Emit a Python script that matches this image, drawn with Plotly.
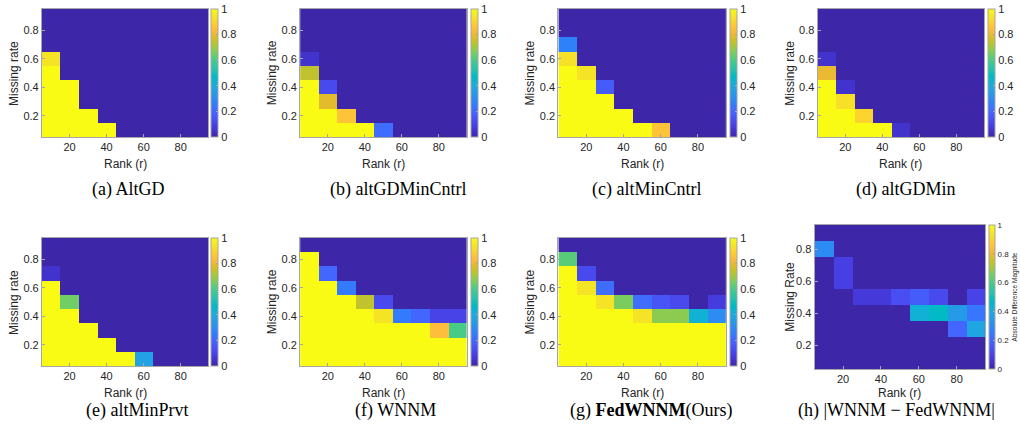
import plotly.graph_objects as go

W, H = 1020, 437

ranks = [10, 20, 30, 40, 50, 60, 70, 80, 90]
missing_rates = [0.1, 0.2, 0.3, 0.4, 0.5, 0.6, 0.7, 0.8, 0.9]
x_ticks = [20, 40, 60, 80]
y_ticks = [0.2, 0.4, 0.6, 0.8]
cb_ticks = [0, 0.2, 0.4, 0.6, 0.8, 1]
cb_ticktext = ["0", "0.2", "0.4", "0.6", "0.8", "1"]

# rows: missing rate 0.1 (bottom) ... 0.9 (top); columns: rank 10 ... 90
altgd = [
    [1, 1, 1, 1, 0, 0, 0, 0, 0],
    [1, 1, 1, 0, 0, 0, 0, 0, 0],
    [1, 1, 0, 0, 0, 0, 0, 0, 0],
    [1, 1, 0, 0, 0, 0, 0, 0, 0],
    [1, 0, 0, 0, 0, 0, 0, 0, 0],
    [0.94, 0, 0, 0, 0, 0, 0, 0, 0],
    [0, 0, 0, 0, 0, 0, 0, 0, 0],
    [0, 0, 0, 0, 0, 0, 0, 0, 0],
    [0, 0, 0, 0, 0, 0, 0, 0, 0],
]
altgdmin_cntrl = [
    [1, 1, 1, 1, 0.22, 0, 0, 0, 0],
    [1, 1, 0.86, 0, 0, 0, 0, 0, 0],
    [1, 0.79, 0, 0, 0, 0, 0, 0, 0],
    [1, 0.12, 0, 0, 0, 0, 0, 0, 0],
    [0.74, 0, 0, 0, 0, 0, 0, 0, 0],
    [0.05, 0, 0, 0, 0, 0, 0, 0, 0],
    [0, 0, 0, 0, 0, 0, 0, 0, 0],
    [0, 0, 0, 0, 0, 0, 0, 0, 0],
    [0, 0, 0, 0, 0, 0, 0, 0, 0],
]
altmin_cntrl = [
    [1, 1, 1, 1, 1, 0.86, 0, 0, 0],
    [1, 1, 1, 1, 0, 0, 0, 0, 0],
    [1, 1, 1, 0, 0, 0, 0, 0, 0],
    [1, 1, 0.17, 0, 0, 0, 0, 0, 0],
    [1, 0.94, 0, 0, 0, 0, 0, 0, 0],
    [0.93, 0, 0, 0, 0, 0, 0, 0, 0],
    [0.27, 0, 0, 0, 0, 0, 0, 0, 0],
    [0, 0, 0, 0, 0, 0, 0, 0, 0],
    [0, 0, 0, 0, 0, 0, 0, 0, 0],
]
altgdmin = [
    [1, 1, 1, 1, 0.05, 0, 0, 0, 0],
    [1, 1, 0.9, 0, 0, 0, 0, 0, 0],
    [1, 0.93, 0, 0, 0, 0, 0, 0, 0],
    [1, 0.05, 0, 0, 0, 0, 0, 0, 0],
    [0.8, 0, 0, 0, 0, 0, 0, 0, 0],
    [0.05, 0, 0, 0, 0, 0, 0, 0, 0],
    [0, 0, 0, 0, 0, 0, 0, 0, 0],
    [0, 0, 0, 0, 0, 0, 0, 0, 0],
    [0, 0, 0, 0, 0, 0, 0, 0, 0],
]
altmin_prvt = [
    [1, 1, 1, 1, 1, 0.37, 0, 0, 0],
    [1, 1, 1, 1, 0, 0, 0, 0, 0],
    [1, 1, 1, 0, 0, 0, 0, 0, 0],
    [1, 1, 0, 0, 0, 0, 0, 0, 0],
    [1, 0.65, 0, 0, 0, 0, 0, 0, 0],
    [1, 0, 0, 0, 0, 0, 0, 0, 0],
    [0.05, 0, 0, 0, 0, 0, 0, 0, 0],
    [0, 0, 0, 0, 0, 0, 0, 0, 0],
    [0, 0, 0, 0, 0, 0, 0, 0, 0],
]
wnnm = [
    [1, 1, 1, 1, 1, 1, 1, 1, 1],
    [1, 1, 1, 1, 1, 1, 1, 1, 1],
    [1, 1, 1, 1, 1, 1, 1, 0.84, 0.6],
    [1, 1, 1, 1, 0.94, 0.25, 0.2, 0.1, 0.1],
    [1, 1, 1, 0.74, 0.12, 0, 0, 0, 0],
    [1, 1, 0.25, 0, 0, 0, 0, 0, 0],
    [1, 0.2, 0, 0, 0, 0, 0, 0, 0],
    [1, 0, 0, 0, 0, 0, 0, 0, 0],
    [0, 0, 0, 0, 0, 0, 0, 0, 0],
]
fedwnnm = [
    [1, 1, 1, 1, 1, 1, 1, 1, 1],
    [1, 1, 1, 1, 1, 1, 1, 1, 1],
    [1, 1, 1, 1, 1, 1, 1, 1, 1],
    [1, 1, 1, 1, 0.94, 0.68, 0.68, 0.43, 0.3],
    [1, 1, 0.94, 0.66, 0.22, 0.15, 0.12, 0, 0.08],
    [1, 0.94, 0.22, 0, 0, 0, 0, 0, 0],
    [1, 0.12, 0, 0, 0, 0, 0, 0, 0],
    [0.62, 0, 0, 0, 0, 0, 0, 0, 0],
    [0, 0, 0, 0, 0, 0, 0, 0, 0],
]
abs_diff = [
    [0, 0, 0, 0, 0, 0, 0, 0, 0],
    [0, 0, 0, 0, 0, 0, 0, 0, 0],
    [0, 0, 0, 0, 0, 0, 0, 0.2, 0.38],
    [0, 0, 0, 0, 0, 0.43, 0.47, 0.35, 0.24],
    [0, 0, 0.07, 0.07, 0.13, 0.17, 0.12, 0, 0.1],
    [0, 0.09, 0, 0, 0, 0, 0, 0, 0],
    [0, 0.09, 0, 0, 0, 0, 0, 0, 0],
    [0.3, 0, 0, 0, 0, 0, 0, 0, 0],
    [0, 0, 0, 0, 0, 0, 0, 0, 0],
]

panel_data = [altgd, altgdmin_cntrl, altmin_cntrl, altgdmin,
              altmin_prvt, wnnm, fedwnnm, abs_diff]
captions = ["(a) AltGD", "(b) altGDMinCntrl", "(c) altMinCntrl", "(d) altGDMin",
            "(e) altMinPrvt", "(f) WNNM", "(g) <b>FedWNNM</b>(Ours)",
            "(h) |WNNM \u2212 FedWNNM|"]

# MATLAB parula (64)
parula = [
    (0.2422, 0.1504, 0.6603), (0.2504, 0.1650, 0.7076), (0.2578, 0.1818, 0.7511),
    (0.2647, 0.1978, 0.7952), (0.2706, 0.2147, 0.8364), (0.2751, 0.2342, 0.8710),
    (0.2783, 0.2559, 0.8991), (0.2803, 0.2782, 0.9221), (0.2813, 0.3006, 0.9414),
    (0.2810, 0.3228, 0.9579), (0.2795, 0.3447, 0.9717), (0.2760, 0.3667, 0.9829),
    (0.2699, 0.3892, 0.9906), (0.2602, 0.4123, 0.9952), (0.2440, 0.4358, 0.9988),
    (0.2206, 0.4603, 0.9973), (0.1963, 0.4847, 0.9892), (0.1834, 0.5074, 0.9798),
    (0.1786, 0.5289, 0.9682), (0.1764, 0.5499, 0.9520), (0.1687, 0.5703, 0.9359),
    (0.1540, 0.5902, 0.9218), (0.1460, 0.6091, 0.9079), (0.1380, 0.6276, 0.8973),
    (0.1248, 0.6459, 0.8883), (0.1113, 0.6635, 0.8763), (0.0952, 0.6798, 0.8598),
    (0.0689, 0.6948, 0.8394), (0.0297, 0.7082, 0.8163), (0.0036, 0.7203, 0.7917),
    (0.0067, 0.7312, 0.7660), (0.0433, 0.7411, 0.7394), (0.0964, 0.7500, 0.7120),
    (0.1408, 0.7584, 0.6842), (0.1717, 0.7670, 0.6554), (0.1938, 0.7758, 0.6251),
    (0.2161, 0.7843, 0.5923), (0.2470, 0.7918, 0.5567), (0.2906, 0.7973, 0.5188),
    (0.3406, 0.8008, 0.4789), (0.3909, 0.8029, 0.4354), (0.4456, 0.8024, 0.3909),
    (0.5044, 0.7993, 0.3480), (0.5616, 0.7942, 0.3045), (0.6174, 0.7876, 0.2612),
    (0.6720, 0.7793, 0.2227), (0.7242, 0.7698, 0.1910), (0.7738, 0.7598, 0.1646),
    (0.8203, 0.7498, 0.1535), (0.8634, 0.7406, 0.1596), (0.9035, 0.7330, 0.1774),
    (0.9393, 0.7288, 0.2100), (0.9728, 0.7298, 0.2394), (0.9956, 0.7434, 0.2371),
    (0.9970, 0.7659, 0.2199), (0.9952, 0.7893, 0.2028), (0.9892, 0.8136, 0.1885),
    (0.9786, 0.8386, 0.1766), (0.9676, 0.8639, 0.1643), (0.9610, 0.8890, 0.1537),
    (0.9597, 0.9135, 0.1423), (0.9628, 0.9373, 0.1265), (0.9691, 0.9606, 0.1064),
    (0.9769, 0.9839, 0.0805),
]
colorscale = [[i / (len(parula) - 1),
               "rgb(%d,%d,%d)" % tuple(round(c * 255) for c in rgb)]
              for i, rgb in enumerate(parula)]

# pixel geometry: (left, right, top, bottom, cb_left, cb_width, caption_x, caption_y)
geom = [
    (42, 209, 9, 137, 212, 7, 128, 190),
    (301, 468, 9, 137, 472, 7, 400, 190),
    (560, 728, 9, 137, 732, 7, 648, 190),
    (820, 987, 9, 137, 991, 7, 908, 190),
    (42, 209, 238, 366, 212, 7, 137, 410),
    (301, 468, 238, 366, 472, 7, 397, 410),
    (560, 728, 238, 366, 732, 7, 653, 410),
    (817, 988, 225, 369, 992, 6, 899, 410),
]

TXT = "#262626"
LINE = "#a6a6a6"
SANS = "Liberation Sans, Arial, sans-serif"
SERIF = "Liberation Serif, Times New Roman, serif"

fig = go.Figure()
layout = dict(
    width=W, height=H, margin=dict(l=0, r=0, t=0, b=0),
    paper_bgcolor="white", plot_bgcolor="white", showlegend=False,
    font=dict(family=SANS, color=TXT, size=11),
)
annotations = []

for i, (z, (L, R, T, B, cbl, cbw, cx, cy)) in enumerate(zip(panel_data, geom)):
    n = i + 1
    sfx = "" if n == 1 else str(n)
    is_h = (n == 8)
    fig.add_trace(go.Heatmap(
        x=ranks, y=missing_rates, z=z,
        xaxis="x" + sfx, yaxis="y" + sfx, coloraxis="coloraxis" + sfx,
        hoverinfo="skip",
    ))
    layout["xaxis" + sfx] = dict(
        domain=[L / W, R / W], anchor="y" + sfx, range=[5, 95],
        tickvals=x_ticks, ticks="inside", ticklen=3, tickcolor=LINE,
        showline=True, mirror=True, linecolor=LINE, linewidth=1,
        showgrid=False, zeroline=False, tickfont=dict(size=11, color=TXT),
    )
    layout["yaxis" + sfx] = dict(
        domain=[1 - B / H, 1 - T / H], anchor="x" + sfx, range=[0.05, 0.95],
        tickvals=y_ticks, ticktext=[str(v) for v in y_ticks],
        ticks="inside", ticklen=3, tickcolor=LINE,
        showline=True, mirror=True, linecolor=LINE, linewidth=1,
        showgrid=False, zeroline=False, tickfont=dict(size=11, color=TXT),
    )
    cb = dict(
        x=cbl / W, xanchor="left", xpad=0,
        y=1 - (T + B) / 2 / H, yanchor="middle", ypad=0,
        len=(B - T) / H, lenmode="fraction",
        thickness=cbw, thicknessmode="pixels",
        outlinecolor=LINE, outlinewidth=1,
        tickvals=cb_ticks, ticktext=cb_ticktext,
        ticks="inside", ticklen=2, tickcolor=LINE,
        tickfont=dict(size=8 if is_h else 11, color=TXT, family=SANS),
    )
    if is_h:
        cb["title"] = dict(text="Absolute Difference Magnitude", side="right",
                           font=dict(size=6.5, color=TXT, family=SANS))
    layout["coloraxis" + sfx] = dict(cmin=0, cmax=1, colorscale=colorscale,
                                     colorbar=cb)
    # axis titles
    annotations.append(dict(
        text="Missing Rate" if is_h else "Missing rate",
        xref="paper", yref="paper",
        x=(L - (25 if is_h else 28)) / W, y=1 - (T + B) / 2 / H,
        xanchor="center", yanchor="middle", textangle=-90, showarrow=False,
        font=dict(size=12, color=TXT, family=SANS),
    ))
    annotations.append(dict(
        text="Rank (r)", xref="paper", yref="paper",
        x=(L + R) / 2 / W, y=1 - (B + (24 if is_h else 27)) / H,
        xanchor="center", yanchor="middle", showarrow=False,
        font=dict(size=12, color=TXT, family=SANS),
    ))
    annotations.append(dict(
        text=captions[i], xref="paper", yref="paper",
        x=cx / W, y=1 - cy / H, xanchor="center", yanchor="middle",
        showarrow=False, font=dict(size=18, color="black", family=SERIF),
    ))

layout["annotations"] = annotations
fig.update_layout(**layout)
fig.write_html("out.html")
